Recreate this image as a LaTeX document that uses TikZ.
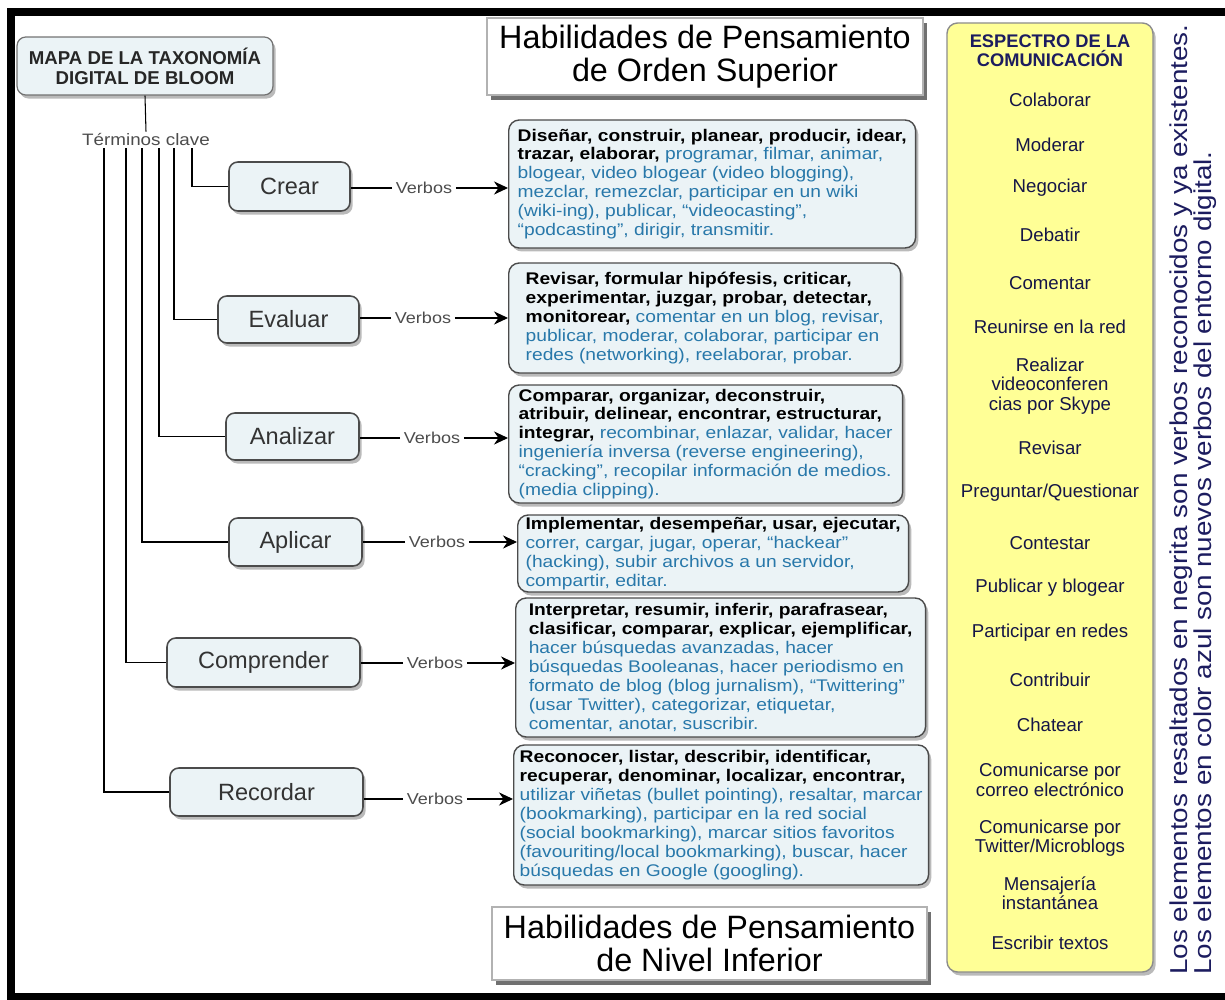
\documentclass[tikz,border=0pt]{standalone}
\usepackage{fontspec}
\setmainfont{Liberation Sans}
\newfontfamily\widesans[FakeStretch=1.14]{Liberation Sans}
\usepackage{tikz}
\usetikzlibrary{arrows.meta,shadows,calc}

\definecolor{boxfill}{RGB}{235,243,246}
\definecolor{boxline}{RGB}{75,75,75}
\definecolor{newverb}{RGB}{40,120,170}
\definecolor{navy}{RGB}{28,28,95}
\definecolor{paleyellow}{RGB}{255,255,150}
\newcommand{\nv}[1]{\textcolor{newverb}{#1}}
\newcommand{\tightlines}{\setlength{\lineskiplimit}{-20pt}}

\tikzset{
  smallshadow/.style={drop shadow={shadow xshift=1.5pt, shadow yshift=-2pt, fill=black!45, opacity=0.6}},
  titlebox/.style={draw=black!55, line width=0.7pt, fill=boxfill, rounded corners=5pt, align=center,
    font=\bfseries\fontsize{10.6}{11.3}\selectfont, text=black!85, smallshadow},
  keyterm/.style={font=\widesans\fontsize{9.4}{10}\selectfont, text=black!70, inner sep=1pt},
  level/.style={draw=boxline, line width=0.9pt, fill=boxfill, rounded corners=5pt,
    font=\fontsize{13.4}{15}\selectfont, text=black!80, smallshadow},
  verbs/.style={font=\widesans\fontsize{9}{10}\selectfont, text=black!70, inner sep=2pt},
  verbbox/.style={draw=boxline, line width=0.8pt, fill=boxfill, rounded corners=6pt, align=left,
    anchor=west, inner sep=1pt, font=\widesans\fontsize{9.6}{10.77}\selectfont, smallshadow},
  header/.style={draw=black!30, line width=0.8pt, fill=white, align=center,
    font=\fontsize{18.4}{18.7}\selectfont,
    drop shadow={shadow xshift=2.5pt, shadow yshift=-3pt, fill=black!70, opacity=0.8}},
  spectitle/.style={align=center, text=navy, font=\bfseries\fontsize{10.4}{11}\selectfont},
  spectrum/.style={align=center, text=navy!75!black, font=\fontsize{10.6}{11}\selectfont},
  note/.style={rotate=90, anchor=west, align=left, inner sep=0pt, text=navy,
    font=\widesans\fontsize{13.9}{12.6}\selectfont},
  link/.style={black, line width=0.6pt},
  tip/.style={-{Stealth[length=8pt, width=7.5pt]}}
}

\begin{document}
\begin{tikzpicture}[x=0.02cm, y=-0.02cm]
\useasboundingbox (0,0) rectangle (1225,1000);

% Marco
\draw[line width=4.6pt] (1230,12) -- (11,12) -- (11,997) -- (1230,997);


% Titulo del mapa
\path
(145,66) node[titlebox, minimum width=5.12cm, minimum height=1.16cm] (mapa) {MAPA DE LA TAXONOMÍA\\DIGITAL DE BLOOM}
(146,140) node[keyterm] (terminos) {Términos clave};

\draw[link] (mapa.south) -- (terminos.north);


% Niveles
\path
(289.5,186.5) node[level, minimum width=2.42cm, minimum height=0.98cm] (crear) {Crear}
(288.5,319.5) node[level, minimum width=2.82cm, minimum height=0.94cm] (evaluar) {Evaluar}
(292.5,436.5) node[level, minimum width=2.66cm, minimum height=0.94cm] (analizar) {Analizar}
(295.5,542) node[level, minimum width=2.66cm, minimum height=0.96cm] (aplicar) {Aplicar}
(263.5,662.5) node[level, minimum width=3.86cm, minimum height=0.98cm] (comprender) {Comprender}
(266.5,792) node[level, minimum width=3.86cm, minimum height=0.96cm] (recordar) {Recordar};

\draw[link] ($(terminos.south)+(46,0)$) |- (crear.west);
\draw[link] ($(terminos.south)+(28,0)$) |- (evaluar.west);
\draw[link] ($(terminos.south)+(13,0)$) |- (analizar.west);
\draw[link] ($(terminos.south)+(-4,0)$) |- (aplicar.west);
\draw[link] ($(terminos.south)+(-20,0)$) |- (comprender.west);
\draw[link] ($(terminos.south)+(-42,0)$) |- (recordar.west);


% Cajas de verbos
\path
(508,184) node[verbbox, minimum width=8.14cm, minimum height=2.56cm] (crearv)
{\textbf{Diseñar, construir, planear, producir, idear,}\\
\textbf{trazar, elaborar,} \nv{programar, filmar, animar,}\\
\nv{blogear, video blogear (video blogging),}\\
\nv{mezclar, remezclar, participar en un wiki}\\
\nv{(wiki-ing), publicar, “videocasting”,}\\
\nv{“podcasting”, dirigir, transmitir.}}
(508,318) node[verbbox, minimum width=7.84cm, minimum height=2.2cm] (evaluarv)
{\textbf{Revisar, formular hipófesis, criticar,}\\
\textbf{experimentar, juzgar, probar, detectar,}\\
\textbf{monitorear,} \nv{comentar en un blog, revisar,}\\
\nv{publicar, moderar, colaborar, participar en}\\
\nv{redes (networking), reelaborar, probar.}}
(508,444) node[verbbox, minimum width=7.88cm, minimum height=2.36cm] (analizarv)
{\textbf{Comparar, organizar, deconstruir,}\\
\textbf{atribuir, delinear, encontrar, estructurar,}\\
\textbf{integrar,} \nv{recombinar, enlazar, validar, hacer}\\
\nv{ingeniería inversa (reverse engineering),}\\
\nv{“cracking”, recopilar información de medios.}\\
\nv{(media clipping).}}
(517,553.5) node[verbbox, minimum width=7.82cm, minimum height=1.54cm] (aplicarv)
{\textbf{Implementar, desempeñar, usar, ejecutar,}\\
\nv{correr, cargar, jugar, operar, “hackear”}\\
\nv{(hacking), subir archivos a un servidor,}\\
\nv{compartir, editar.}}
(515,667.5) node[verbbox, minimum width=8.2cm, minimum height=2.78cm] (comprenderv)
{\textbf{Interpretar, resumir, inferir, parafrasear,}\\
\textbf{clasificar, comparar, explicar, ejemplificar,}\\
\nv{hacer búsquedas avanzadas, hacer}\\
\nv{búsquedas Booleanas, hacer periodismo en}\\
\nv{formato de blog (blog jurnalism), “Twittering”}\\
\nv{(usar Twitter), categorizar, etiquetar,}\\
\nv{comentar, anotar, suscribir.}}
(513,815) node[verbbox, minimum width=8.3cm, minimum height=2.8cm] (recordarv)
{\textbf{Reconocer, listar, describir, identificar,}\\
\textbf{recuperar, denominar, localizar, encontrar,}\\
\nv{utilizar viñetas (bullet pointing), resaltar, marcar}\\
\nv{(bookmarking), participar en la red social}\\
\nv{(social bookmarking), marcar sitios favoritos}\\
\nv{(favouriting/local bookmarking), buscar, hacer}\\
\nv{búsquedas en Google (googling).}};


% Verbos
\path
(424,188) node[verbs] (vcrear) {Verbos}
(423,318) node[verbs] (vevaluar) {Verbos}
(432,438) node[verbs] (vanalizar) {Verbos}
(437,542) node[verbs] (vaplicar) {Verbos}
(435,663) node[verbs] (vcomprender) {Verbos}
(435,799) node[verbs] (vrecordar) {Verbos};

\draw[link] (vcrear.west) -- (vcrear.west -| crear.east);
\draw[link] (vevaluar.west) -- (vevaluar.west -| evaluar.east);
\draw[link] (vanalizar.west) -- (vanalizar.west -| analizar.east);
\draw[link] (vaplicar.west) -- (vaplicar.west -| aplicar.east);
\draw[link] (vcomprender.west) -- (vcomprender.west -| comprender.east);
\draw[link] (vrecordar.west) -- (vrecordar.west -| recordar.east);

\draw[link, tip] (vcrear.east) -- (vcrear.east -| crearv.west);
\draw[link, tip] (vevaluar.east) -- (vevaluar.east -| evaluarv.west);
\draw[link, tip] (vanalizar.east) -- (vanalizar.east -| analizarv.west);
\draw[link, tip] (vaplicar.east) -- (vaplicar.east -| aplicarv.west);
\draw[link, tip] (vcomprender.east) -- (vcomprender.east -| comprenderv.west);
\draw[link, tip] (vrecordar.east) -- (vrecordar.east -| recordarv.west);


% Habilidades
\path
(705,56.5) node[header, minimum width=8.72cm, minimum height=1.54cm] (superior) {Habilidades de Pensamiento\\de Orden Superior}
(709.5,943.5) node[header, minimum width=8.7cm, minimum height=1.46cm] (inferior) {Habilidades de Pensamiento\\de Nivel Inferior};


% Espectro de la comunicacion
\filldraw[fill=paleyellow, draw=black!45, line width=0.8pt, rounded corners=6pt, smallshadow] (947,23) rectangle (1153,972);

\path
(1050,51) node[spectitle] (espectro) {ESPECTRO DE LA\\COMUNICACIÓN}
(1050,100) node[spectrum] (colaborar) {Colaborar}
(1050,145) node[spectrum] (moderar) {Moderar}
(1050,188) node[spectrum] (negociar) {Negociar}
(1050,235) node[spectrum] (debatir) {Debatir}
(1050,283) node[spectrum] (comentar) {Comentar}
(1050,327) node[spectrum] (reunirse) {Reunirse en la red}
(1050,386) node[spectrum] (skype) {Realizar\\videoconferen\\cias por Skype}
(1050,448) node[spectrum] (revisar) {Revisar}
(1050,493) node[spectrum] (preguntar) {Preguntar/Questionar}
(1050,543) node[spectrum] (contestar) {Contestar}
(1050,588) node[spectrum] (publicar) {Publicar y blogear}
(1050,633) node[spectrum] (participar) {Participar en redes}
(1050,680) node[spectrum] (contribuir) {Contribuir}
(1050,725) node[spectrum] (chatear) {Chatear}
(1050,780) node[spectrum] (correo) {Comunicarse por\\correo electrónico}
(1050,838) node[spectrum] (twitter) {Comunicarse por\\Twitter/Microblogs}
(1050,893) node[spectrum] (mensajeria) {Mensajería\\instantánea}
(1050,943) node[spectrum] (escribir) {Escribir textos};


% Nota lateral
\node[note] (nota) at (1193,975)
{\tightlines Los elementos resaltados en negrita son verbos reconocidos y ya existentes.\\
Los elementos en color azul son nuevos verbos del entorno digital.};

\end{tikzpicture}
\end{document}
